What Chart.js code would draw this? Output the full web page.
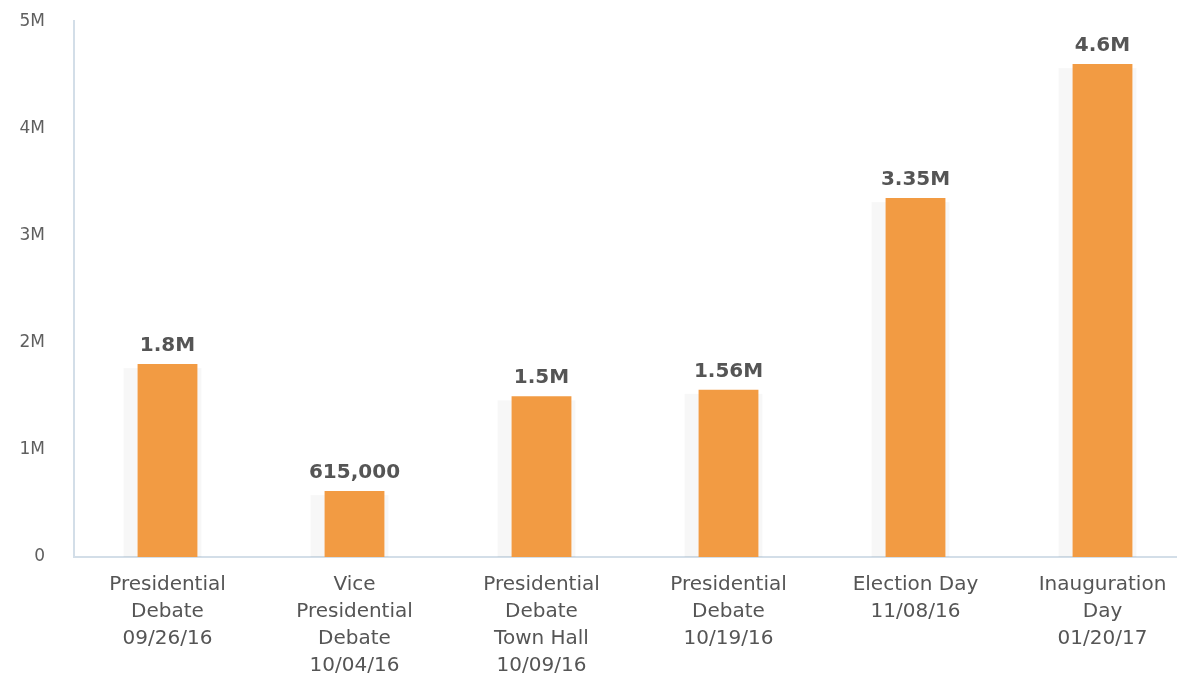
<!DOCTYPE html>
<html>
<head>
<meta charset="utf-8">
<script src="https://cdn.jsdelivr.net/npm/chart.js@4/dist/chart.umd.min.js"></script>
<style>
  html, body { margin: 0; padding: 0; background: #fff; overflow: hidden; }
  #wrap { width: 1196px; height: 699px; margin-top: -18px; }
</style>
</head>
<body>
<div id="wrap"><canvas id="chart"></canvas></div>
<script>
const categories = [
  ['Presidential', 'Debate', '09/26/16'],
  ['Vice', 'Presidential', 'Debate', '10/04/16'],
  ['Presidential', 'Debate', 'Town Hall', '10/09/16'],
  ['Presidential', 'Debate', '10/19/16'],
  ['Election Day', '11/08/16'],
  ['Inauguration', 'Day', '01/20/17']
];
const viewers = [1800000, 615000, 1500000, 1560000, 3350000, 4600000];
const valueLabels = ['1.8M', '615,000', '1.5M', '1.56M', '3.35M', '4.6M'];
const yTicks = [0, 1000000, 2000000, 3000000, 4000000, 5000000];
const yTickLabels = ['0', '1M', '2M', '3M', '4M', '5M'];

const FONT = "'DejaVu Sans', sans-serif";
const ORANGE = '#F29B43';
const AXIS = '#D3DEE8';

// faint grey strip behind each bar, as in the source image
const barShadow = {
  id: 'barShadow',
  beforeDatasetsDraw(chart) {
    const ctx = chart.ctx;
    const meta = chart.getDatasetMeta(0);
    ctx.save();
    ctx.fillStyle = 'rgba(0,0,0,0.03)';
    meta.data.forEach(bar => {
      const w = bar.width;
      ctx.fillRect(bar.x - w / 2 - 14, bar.y + 4, w + 18, bar.base - bar.y - 4);
    });
    ctx.restore();
  }
};

const valueText = {
  id: 'valueText',
  afterDatasetsDraw(chart) {
    const ctx = chart.ctx;
    const meta = chart.getDatasetMeta(0);
    ctx.save();
    ctx.font = 'bold 20px ' + FONT;
    ctx.fillStyle = '#555';
    ctx.textAlign = 'center';
    ctx.textBaseline = 'alphabetic';
    meta.data.forEach((bar, i) => {
      ctx.fillText(valueLabels[i], bar.x, bar.y - 13);
    });
    ctx.restore();
  }
};

new Chart(document.getElementById('chart'), {
  type: 'bar',
  data: {
    labels: categories,
    datasets: [{
      data: viewers,
      backgroundColor: ORANGE,
      borderWidth: 0,
      barPercentage: 0.32,
      categoryPercentage: 1
    }]
  },
  options: {
    responsive: true,
    maintainAspectRatio: false,
    animation: false,
    layout: { padding: { top: 2, left: 0, right: 0, bottom: 0 } },
    plugins: { legend: { display: false }, tooltip: { enabled: false } },
    scales: {
      x: {
        grid: { display: false, drawTicks: false },
        border: { display: true, color: AXIS, width: 2 },
        ticks: {
          color: '#555',
          font: { family: FONT, size: 20, lineHeight: 1.35 },
          padding: 14,
          maxRotation: 0,
          autoSkip: false
        },
        afterFit(scale) { scale.height = 124; }
      },
      y: {
        min: 0,
        max: 5000000,
        afterBuildTicks(scale) { scale.ticks = yTicks.map(v => ({ value: v })); },
        grid: { display: false, drawTicks: false },
        border: { display: true, color: AXIS, width: 2 },
        ticks: {
          color: '#5f5f5f',
          font: { family: FONT, size: 17 },
          padding: 29,
          callback: (v) => yTickLabels[yTicks.indexOf(v)]
        },
        afterFit(scale) { scale.width = 74; }
      }
    }
  },
  plugins: [barShadow, valueText]
});
</script>
</body>
</html>
